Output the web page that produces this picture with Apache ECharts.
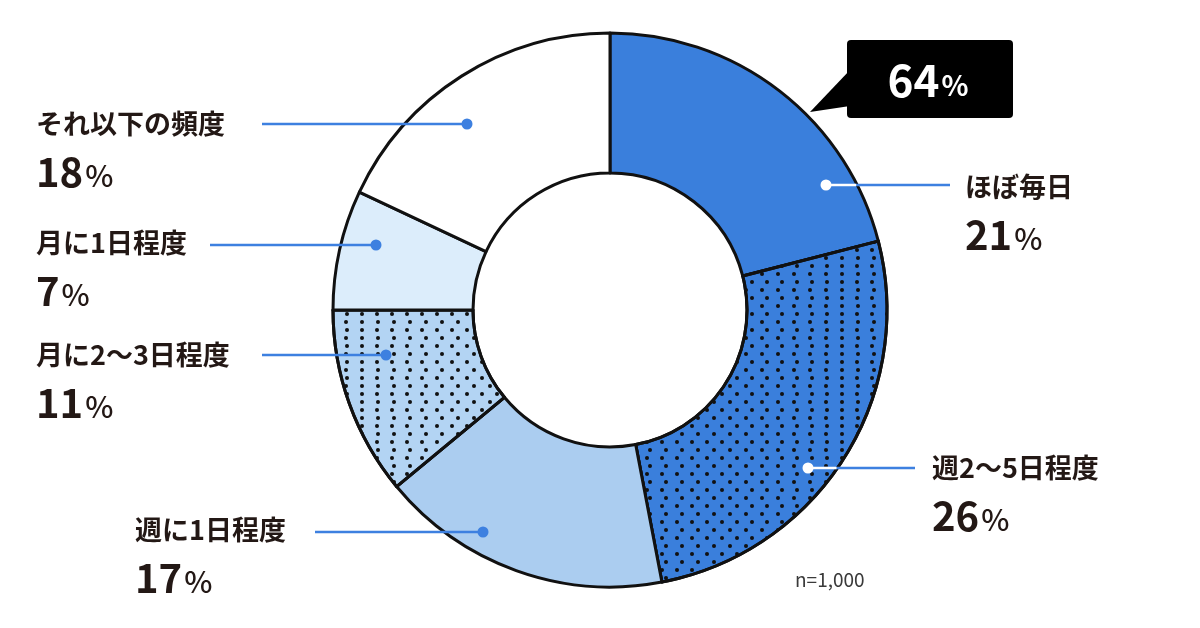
<!DOCTYPE html>
<html>
<head>
<meta charset="utf-8">
<script src="https://cdn.jsdelivr.net/npm/echarts@6/dist/echarts.min.js"></script>
<style>
  html, body { margin: 0; padding: 0; background: #fff; }
  #chart { width: 1200px; height: 628px; }
</style>
</head>
<body>
<div id="chart"></div>
<script>
// data
const categories = ['ほぼ毎日', '週2〜5日程度', '週に1日程度', '月に2〜3日程度', '月に1日程度', 'それ以下の頻度']
const shares = [21, 26, 17, 11, 7, 18]
const weeklyCount = 3 // first three categories = at least once a week
const sampleNote = 'n=1,000'

// styling
const fills = ['#3a7fdc', '#3a7fdc', '#abcdf0', '#b3d4f3', '#dcedfb', '#ffffff']
const dotted = [false, true, false, true, false, false]
const darkSlice = [true, true, false, false, false, false]
const labelTopLeft = [[965, 167], [932, 448], [135, 510], [36, 335], [36, 223], [36, 104]]
// leader: [dotX, y, lineEndX]
const leaders = [[826, 185, 950], [808, 468, 915], [483, 532, 315], [386, 355, 262], [376, 245, 210], [467, 124, 262]]
const cx = 610
const cy = 310
const rOuter = 277
const rInner = 137
const lineBlue = '#3d80e0'
const font = '"Noto Sans CJK JP", "Noto Sans", sans-serif'

const dotDecal = {
  symbol: 'circle',
  symbolSize: 1,
  color: '#111',
  dashArrayX: [[4, 11], [0, 7.5, 4, 3.5]],
  dashArrayY: [4, 4]
}

const weeklyTotal = shares.slice(0, weeklyCount).reduce((a, b) => a + b, 0)

const chart = echarts.init(document.getElementById('chart'), null, { renderer: 'canvas' })

const graphics = []
leaders.forEach(([dx, y, ex], i) => {
  graphics.push({
    type: 'line', z: 100, silent: true,
    shape: { x1: dx, y1: y, x2: ex, y2: y },
    style: { stroke: lineBlue, lineWidth: 2.5 }
  })
  if (darkSlice[i]) {
    const edgeX = cx + Math.sqrt(rOuter * rOuter - (y - cy) * (y - cy)) - 1
    graphics.push({
      type: 'line', z: 101, silent: true,
      shape: { x1: dx, y1: y, x2: edgeX, y2: y },
      style: { stroke: '#ffffff', lineWidth: 2.5 }
    })
  }
  graphics.push({
    type: 'circle', z: 102, silent: true,
    shape: { cx: dx, cy: y, r: 5.5 },
    style: { fill: darkSlice[i] ? '#ffffff' : lineBlue }
  })
})

// callout
graphics.push({
  type: 'polygon', z: 100, silent: true,
  shape: { points: [[850, 70], [810, 112], [850, 106]] },
  style: { fill: '#000' }
})
graphics.push({
  type: 'rect', z: 100, silent: true,
  shape: { x: 847, y: 40, width: 166, height: 78, r: 4 },
  style: { fill: '#000' }
})
graphics.push({
  type: 'text', z: 101, silent: true,
  x: 928, y: 80,
  style: {
    text: '{a|' + weeklyTotal + '}{b|%}',
    align: 'center', verticalAlign: 'middle',
    rich: {
      a: { fontSize: 44, fontWeight: 'bold', fill: '#fff', fontFamily: font },
      b: { fontSize: 28, fontWeight: 'bold', fill: '#fff', fontFamily: font, padding: [10, 0, 0, 2] }
    }
  }
})
graphics.push({
  type: 'text', z: 100, silent: true,
  x: 795, y: 580,
  style: { text: sampleNote, fontSize: 19, fill: '#3a3a3a', fontFamily: font, verticalAlign: 'middle' }
})

chart.setOption({
  animation: false,
  series: [{
    type: 'pie',
    center: [cx, cy],
    radius: [rInner, rOuter],
    startAngle: 90,
    clockwise: true,
    avoidLabelOverlap: false,
    emphasis: { disabled: true },
    itemStyle: { borderColor: '#111', borderWidth: 3 },
    label: {
      show: true,
      position: 'outside',
      formatter: (p) => '{n|' + p.name + '}\n{v|' + p.value + '}{p|%}',
      rich: {
        n: { fontSize: 27, fontWeight: 'bold', color: '#231815', fontFamily: font, lineHeight: 40 },
        v: { fontSize: 40, fontWeight: 'bold', color: '#231815', fontFamily: font, lineHeight: 56 },
        p: { fontSize: 30, fontWeight: 500, color: '#231815', fontFamily: font, lineHeight: 56, padding: [8, 0, 0, 2] }
      }
    },
    labelLine: { show: false },
    labelLayout: (params) => {
      const pos = labelTopLeft[params.dataIndex]
      return { x: pos[0], y: pos[1], align: 'left', verticalAlign: 'top' }
    },
    data: categories.map((name, i) => ({
      name,
      value: shares[i],
      itemStyle: dotted[i] ? { color: fills[i], decal: dotDecal } : { color: fills[i] }
    }))
  }],
  graphic: graphics
})
</script>
</body>
</html>
